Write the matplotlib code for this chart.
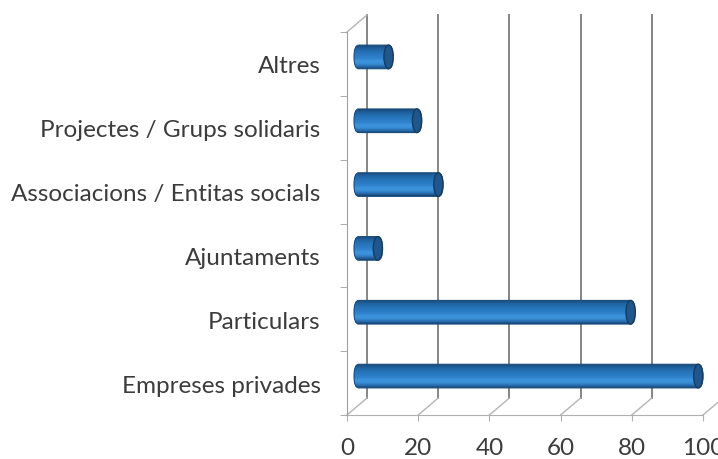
import numpy as np
import matplotlib
matplotlib.use("Agg")
import matplotlib.pyplot as plt
from matplotlib.transforms import offset_copy
from matplotlib.patches import FancyBboxPatch, Ellipse

categories = ["Empreses privades", "Particulars", "Ajuntaments",
              "Associacions / Entitas socials", "Projectes / Grups solidaris", "Altres"]
values = [98, 79, 8, 25, 19, 11]
x_ticks = [0, 20, 40, 60, 80, 100]

plt.rcParams["font.family"] = ["Lato", "DejaVu Sans"]
TEXT = "#3c3c3c"
GRID = "#858585"
FLOOR = "#b4b4b4"

fig = plt.figure(figsize=(7.18, 4.60), dpi=100)
ax = fig.add_axes([347 / 718, 44 / 460, 356 / 718, 383 / 460])
ax.set_xlim(0, 100)
ax.set_ylim(-0.5, len(categories) - 0.5)

# 3D look: back wall and bar depth are shifted copies of the data transform
back_tr = offset_copy(ax.transData, fig=fig, x=20, y=17, units="dots")
mid_tr = offset_copy(ax.transData, fig=fig, x=7, y=7, units="dots")
inv = ax.transData.inverted()
y0, y1 = ax.get_ylim()


def to_back(x, y):
    return inv.transform(back_tr.transform((x, y)))


# back wall gridlines
for xv in x_ticks:
    ax.plot([xv, xv], [y0, y1], color=GRID, lw=1.4, transform=back_tr, clip_on=False, zorder=1)
    xb, yb = to_back(xv, y0)
    ax.plot([xv, xb], [y0, yb], color=FLOOR, lw=1.0, clip_on=False, zorder=1)
xb, yb = to_back(0, y1)
ax.plot([0, xb], [y1, yb], color=FLOOR, lw=1.0, clip_on=False, zorder=1)

# cylinder bars
ypos = np.arange(len(categories))
h = 0.37
grad_cols = ["#17426e", "#2870b2", "#3a8fd8", "#3d94dc", "#2f83cc", "#2a7bc4",
             "#2774bb", "#236bac", "#1e5e98", "#174878"]
cmap = matplotlib.colors.LinearSegmentedColormap.from_list("cyl", grad_cols)
grad = np.linspace(0, 1, 64).reshape(-1, 1)
r = 1.3
for yv, v in zip(ypos, values):
    body = FancyBboxPatch((0, yv - h / 2), v, h,
                          boxstyle=f"round,pad=0,rounding_size={r}",
                          mutation_aspect=h / (2 * r),
                          transform=mid_tr, facecolor="none", edgecolor="#1a4c7c",
                          lw=0.8, zorder=3, clip_on=False)
    ax.add_patch(body)
    im = ax.imshow(grad, cmap=cmap, aspect="auto", extent=[0, v, yv - h / 2, yv + h / 2],
                   transform=mid_tr, zorder=2, interpolation="bilinear", origin="lower")
    im.set_clip_path(body)
    cap = Ellipse((v - r, yv), 2 * r, h, transform=mid_tr,
                  facecolor="#1f568c", edgecolor="#153c63", lw=1.0, zorder=4, clip_on=False)
    ax.add_patch(cap)

ax.set_xlim(0, 100)
ax.set_ylim(-0.5, len(categories) - 0.5)

for side in ["top", "right"]:
    ax.spines[side].set_visible(False)
ax.spines["left"].set_color("#a0a0a0")
ax.spines["bottom"].set_color("#b0b0b0")
ax.set_facecolor("none")

ax.set_yticks(ypos, categories)
ax.set_yticks(np.arange(-0.5, len(categories), 1), minor=True)
ax.tick_params(axis="y", which="major", length=0, pad=19, labelsize=17.5, labelcolor=TEXT)
ax.tick_params(axis="y", which="minor", length=5, color="#a0a0a0")
ax.set_xticks(x_ticks)
ax.tick_params(axis="x", length=4, color="#b0b0b0", pad=12, labelsize=17.5, labelcolor=TEXT)

fig.savefig("out.png", dpi=100)
